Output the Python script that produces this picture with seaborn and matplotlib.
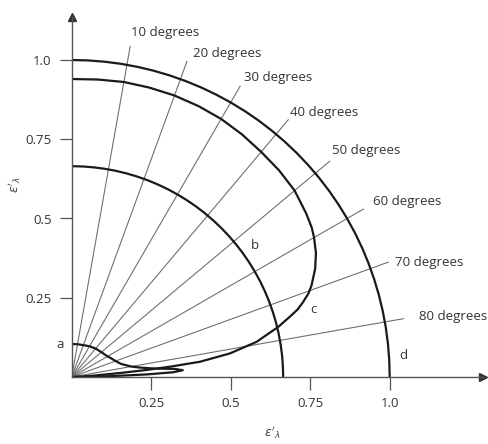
import numpy as np
import matplotlib
matplotlib.use('Agg')
import matplotlib.pyplot as plt
import seaborn as sns

# directional emissivity vs. angle from the surface normal (degrees)
angles_circle = list(range(0, 91, 3))
eps_d = [1.0] * len(angles_circle)       # black body
eps_b = [0.665] * len(angles_circle)     # diffuse grey

angles_c = [0, 5, 10, 15, 20, 25, 30, 35, 40, 45, 50, 55, 58, 60, 63, 66, 69, 70.5, 72,
            73.3, 74.5, 76.3, 79.2, 81.5, 83.2, 84, 84.6, 85.3, 86.3, 88, 90]
eps_c = [0.94, 0.942, 0.945, 0.945, 0.945, 0.943, 0.94, 0.934, 0.927, 0.922, 0.915,
         0.90, 0.89, 0.88, 0.862, 0.838, 0.808, 0.79, 0.765, 0.742, 0.712, 0.669,
         0.592, 0.503, 0.406, 0.311, 0.237, 0.15, 0.07, 0.025, 0.0]

angles_a = [0, 10, 20, 30, 40, 50, 60, 65, 70, 75, 80, 82, 83.5, 84.5, 85.5, 86.5,
            87.3, 88, 88.8, 90]
eps_a = [0.104, 0.105, 0.107, 0.112, 0.117, 0.122, 0.13, 0.138, 0.147, 0.16, 0.19,
         0.215, 0.245, 0.275, 0.325, 0.35, 0.32, 0.24, 0.12, 0.0]

ray_angles = [10, 20, 30, 40, 50, 60, 70, 80]
ray_labels = [f'{a} degrees' for a in ray_angles]
ray_len = 1.06

ticks = [0.25, 0.5, 0.75, 1.0]
tick_labels = ['0.25', '0.5', '0.75', '1.0']

curve_names = ['a', 'b', 'c', 'd']


def to_xy(angles, eps):
    th = np.radians(angles)
    r = np.asarray(eps, dtype=float)
    return r * np.sin(th), r * np.cos(th)


sns.set_theme(style='white')
plt.rcParams['font.family'] = ['Open Sans', 'DejaVu Sans']

fig = plt.figure(figsize=(4.88, 4.44), dpi=100)
ax = fig.add_axes([71.7 / 488, 67 / 444, 411.3 / 488, 360 / 444])
ax.set_xlim(0, 411.3 / 318)
ax.set_ylim(0, 360 / 317)

# radial lines
pix_off = [(1, 14), (6, 8), (4, 8), (2, 7), (2, 11), (9, 7), (7, 0), (15, 2)]
for ang, lab, off in zip(ray_angles, ray_labels, pix_off):
    x, y = to_xy([0, ang], [0, ray_len])
    sns.lineplot(x=x, y=y, ax=ax, color='#707070', linewidth=0.8, sort=False, estimator=None)
    ax.annotate(lab, (x[1], y[1]), xytext=(off[0] / 1.389, off[1] / 1.389),
                textcoords='offset points', ha='left', va='center', fontsize=9.5, color='#333333')

# emissivity curves
for angles, eps in [(angles_circle, eps_d), (angles_circle, eps_b), (angles_c, eps_c), (angles_a, eps_a)]:
    x, y = to_xy(angles, eps)
    sns.lineplot(x=x, y=y, ax=ax, color='#1a1a1a', linewidth=1.6, sort=False, estimator=None,
                 solid_joinstyle='round')

# curve letters
letter_pos = [(-0.037, 0.104), (0.576, 0.416), (0.759, 0.214), (1.043, 0.069)]
for name, (lx, ly) in zip(curve_names, letter_pos):
    ax.text(lx, ly, name, ha='center', va='center', fontsize=9.5, color='#333333')

# axes styling
for s in ['top', 'right']:
    ax.spines[s].set_visible(False)
for s in ['left', 'bottom']:
    ax.spines[s].set_color('#555555')
    ax.spines[s].set_linewidth(1.0)
ax.plot(1, 0, '>', color='#333333', markersize=6, transform=ax.get_yaxis_transform(), clip_on=False)
ax.plot(0, 1, '^', color='#333333', markersize=6, transform=ax.get_xaxis_transform(), clip_on=False)

ax.set_xticks(ticks)
ax.set_xticklabels(tick_labels)
ax.set_yticks(ticks)
ax.set_yticklabels(tick_labels)
ax.tick_params(direction='out', length=9, width=0.9, color='#555555', pad=5.5,
               labelsize=9.5, labelcolor='#333333', left=True, bottom=True)

fig.text(272 / 488, 1 - 433 / 444, r"$\epsilon'_\lambda$", ha='center', va='center', fontsize=9, color='#444444')
fig.text(15 / 488, 1 - 185 / 444, r"$\epsilon'_\lambda$", ha='center', va='center', fontsize=9,
         color='#444444', rotation=90)

fig.savefig('out.png', dpi=100)
